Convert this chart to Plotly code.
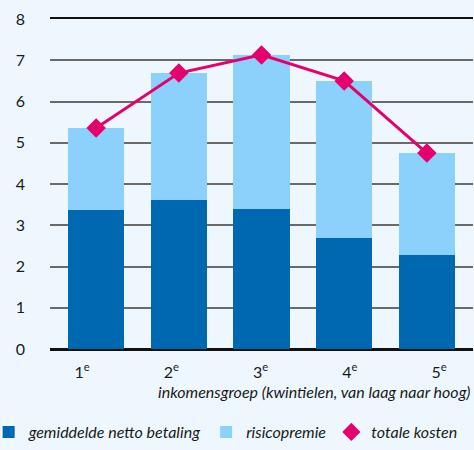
import plotly.graph_objects as go

categories = ["1<sup>e</sup>", "2<sup>e</sup>", "3<sup>e</sup>", "4<sup>e</sup>", "5<sup>e</sup>"]
netto_betaling = [3.37, 3.61, 3.39, 2.69, 2.28]
risicopremie = [1.99, 3.08, 3.74, 3.81, 2.47]
totale_kosten = [5.36, 6.69, 7.13, 6.50, 4.75]
y_ticks = [0, 1, 2, 3, 4, 5, 6, 7, 8]
x_title = "inkomensgroep (kwintielen, van laag naar hoog)"

DARK = "#0067B1"
LIGHT = "#8BD1FB"
PINK = "#E5006D"
BG = "#EEF7FD"
FONT = "Lato"

fig = go.Figure()
fig.add_trace(go.Bar(x=categories, y=netto_betaling, name="gemiddelde netto betaling",
                     marker=dict(color=DARK, line=dict(width=0))))
fig.add_trace(go.Bar(x=categories, y=risicopremie, name="risicopremie",
                     marker=dict(color=LIGHT, line=dict(width=0))))
fig.add_trace(go.Scatter(x=categories, y=totale_kosten, name="totale kosten", mode="lines+markers",
                         line=dict(color=PINK, width=3), showlegend=False,
                         marker=dict(symbol="diamond", size=15, color=PINK)))
# legend entry: diamond only
fig.add_trace(go.Scatter(x=[None], y=[None], name="totale kosten", mode="markers",
                         marker=dict(symbol="diamond", size=14, color=PINK)))
# invisible trace to carry the tick labels on a second x axis
fig.add_trace(go.Scatter(x=categories, y=[None]*5, xaxis="x2", showlegend=False, hoverinfo="skip"))

fig.update_layout(
    width=474, height=450,
    barmode="stack", bargap=0.32,
    paper_bgcolor=BG, plot_bgcolor=BG,
    margin=dict(l=50, r=1, t=19, b=101, autoexpand=False),
    font=dict(family=FONT, size=16, color="#1a1a1a"),
    xaxis=dict(type="category", range=[-0.558, 4.558], showticklabels=False,
               showgrid=False, showline=True, mirror=True, linecolor="#111", linewidth=1.5,
               ticks="", automargin=False),
    xaxis2=dict(type="category", overlaying="x", side="bottom", range=[-0.36, 4.38],
                showgrid=False, showline=False, ticks="", tickfont=dict(size=16),
                ticklabelstandoff=12, automargin=False),
    yaxis=dict(range=[0, 8], tickvals=y_ticks, showgrid=True, gridcolor="#6a6a6a", gridwidth=1.5,
               zeroline=True, zerolinecolor="#111", zerolinewidth=2.5, ticks="",
               ticklabelstandoff=24, tickfont=dict(size=16), automargin=False),
    legend=dict(orientation="h", x=-0.145, xanchor="left", y=-0.2, yanchor="top",
                font=dict(size=16, style="italic"), itemwidth=30, traceorder="normal",
                bgcolor="rgba(0,0,0,0)"),
    annotations=[dict(text=x_title, xref="paper", yref="paper", x=1.0, y=-0.13,
                      xanchor="right", yanchor="middle", showarrow=False,
                      font=dict(size=16, style="italic"))],
    showlegend=True,
)

fig.write_html("out.html", config={"displayModeBar": False},
               post_script="document.body.style.margin='0';")
